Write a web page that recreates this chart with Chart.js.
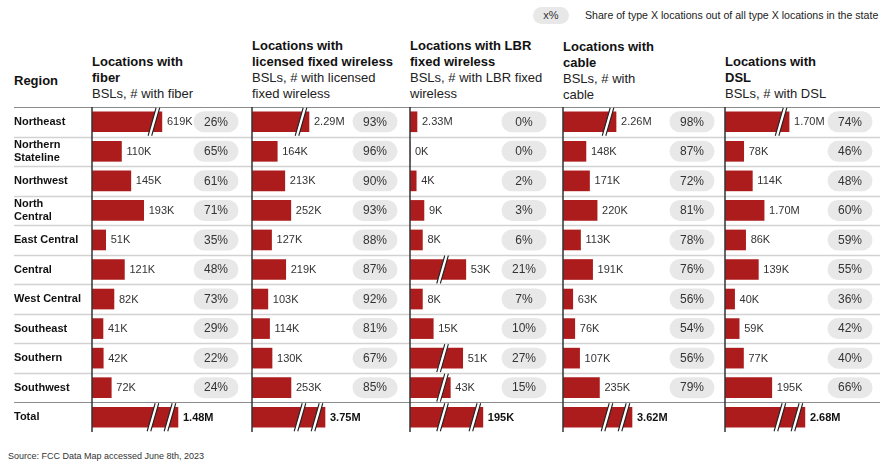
<!DOCTYPE html>
<html>
<head>
<meta charset="utf-8">
<script src="https://cdn.jsdelivr.net/npm/chart.js@4/dist/chart.umd.min.js"></script>
<style>
  body { margin: 0; width: 883px; height: 462px; position: relative; overflow: hidden; background: #fff;
         font-family: "Liberation Sans", Arial, sans-serif; color: #111; }
  .hd { position: absolute; bottom: 360px; font-size: 13px; line-height: 16px; color: #222; white-space: nowrap; }
  .hd b { display: block; color: #111; }
  canvas { position: absolute; top: 106px; }
  #key { position: absolute; left: 533px; top: 7px; width: 36px; height: 17px; border-radius: 9px; background: #e8e8e8;
         font-size: 11px; line-height: 17px; text-align: center; color: #333; }
  #keytxt { position: absolute; left: 585px; top: 8px; font-size: 10.6px; line-height: 15px; color: #222; white-space: nowrap; }
  #src { position: absolute; left: 8px; top: 451px; font-size: 9px; color: #333; white-space: nowrap; }
</style>
</head>
<body>
<div id="key">x%</div>
<div id="keytxt">Share of type X locations out of all type X locations in the state</div>

<div class="hd" style="left:14px;bottom:373px"><b>Region</b></div>
<div class="hd" style="left:92px"><b>Locations with<br>fiber</b>BSLs, # with fiber</div>
<div class="hd" style="left:252px"><b>Locations with<br>licensed fixed wireless</b>BSLs, # with licensed<br>fixed wireless</div>
<div class="hd" style="left:410px"><b>Locations with LBR<br>fixed wireless</b>BSLs, # with LBR fixed<br>wireless</div>
<div class="hd" style="left:563px;bottom:359px"><b>Locations with<br>cable</b>BSLs, # with<br>cable</div>
<div class="hd" style="left:725px"><b>Locations with<br>DSL</b>BSLs, # with DSL</div>

<canvas id="c1" width="250" height="327" style="left:0px"></canvas>
<canvas id="c2" width="158" height="327" style="left:250px"></canvas>
<canvas id="c3" width="153" height="327" style="left:408px"></canvas>
<canvas id="c4" width="162" height="327" style="left:561px"></canvas>
<canvas id="c5" width="160" height="327" style="left:723px"></canvas>

<div id="src">Source: FCC Data Map accessed June 8th, 2023</div>

<script>
const regions = [
  'Northeast', ['Northern', 'Stateline'], 'Northwest', ['North', 'Central'], 'East Central',
  'Central', 'West Central', 'Southeast', 'Southern', 'Southwest', 'Total'
];

// bar lengths in thousands; broken bars (see *Breaks) are drawn shorter than their label
const fiberBars   = [261, 110, 145, 193, 51, 121, 82, 41, 42, 72, 321];
const fiberLabels = ['619K', '110K', '145K', '193K', '51K', '121K', '82K', '41K', '42K', '72K', '1.48M'];
const fiberShare  = [26, 65, 61, 71, 35, 48, 73, 29, 22, 24];
const fiberBreaks = [1, 0, 0, 0, 0, 0, 0, 0, 0, 0, 2];

const licBars   = [370, 164, 213, 252, 127, 219, 103, 114, 130, 253, 474];
const licLabels = ['2.29M', '164K', '213K', '252K', '127K', '219K', '103K', '114K', '130K', '253K', '3.75M'];
const licShare  = [93, 96, 90, 93, 88, 87, 92, 81, 67, 85];
const licBreaks = [1, 0, 0, 0, 0, 0, 0, 0, 0, 0, 2];

const lbrBars   = [4.5, 0, 4, 9, 8, 36, 8, 15, 34, 26, 47];
const lbrLabels = ['2.33M', '0K', '4K', '9K', '8K', '53K', '8K', '15K', '51K', '43K', '195K'];
const lbrShare  = [0, 0, 2, 3, 6, 21, 7, 10, 27, 15];
const lbrBreaks = [0, 0, 0, 0, 0, 1, 0, 0, 1, 1, 2];

const cableBars   = [342, 148, 171, 220, 113, 191, 63, 76, 107, 235, 445];
const cableLabels = ['2.26M', '148K', '171K', '220K', '113K', '191K', '63K', '76K', '107K', '235K', '3.62M'];
const cableShare  = [98, 87, 72, 81, 78, 76, 56, 54, 56, 79];
const cableBreaks = [1, 0, 0, 0, 0, 0, 0, 0, 0, 0, 2];

const dslBars   = [267, 78, 114, 163, 86, 139, 40, 59, 77, 195, 333];
const dslLabels = ['1.70M', '78K', '114K', '1.70M', '86K', '139K', '40K', '59K', '77K', '195K', '2.68M'];
const dslShare  = [74, 46, 48, 60, 59, 55, 36, 42, 40, 66];
const dslBreaks = [1, 0, 0, 0, 0, 0, 0, 0, 0, 0, 2];

const FONT = '"Liberation Sans", Arial, sans-serif';
const RED = '#ad1c1c';

function drawBreak(ctx, cx, yc) {
  const h = 14, s = 4, g = 1.8;
  ctx.beginPath();
  ctx.moveTo(cx + s - g, yc - h);
  ctx.lineTo(cx + s + g, yc - h);
  ctx.lineTo(cx - s + g, yc + h);
  ctx.lineTo(cx - s - g, yc + h);
  ctx.closePath();
  ctx.fillStyle = '#fff';
  ctx.fill();
  ctx.beginPath();
  ctx.moveTo(cx + s - g, yc - h); ctx.lineTo(cx - s - g, yc + h);
  ctx.moveTo(cx + s + g, yc - h); ctx.lineTo(cx - s + g, yc + h);
  ctx.strokeStyle = '#222';
  ctx.lineWidth = 1.1;
  ctx.stroke();
}

const rowDecor = {
  id: 'rowDecor',
  beforeDatasetsDraw(chart, args, o) {
    const { ctx, chartArea: a, scales: { y } } = chart;
    const x0 = o.lineFrom, x1 = chart.width - o.lineTo;
    ctx.save();
    ctx.strokeStyle = '#8c8c8c';
    ctx.lineWidth = 1.2;
    ctx.beginPath();
    ctx.moveTo(x0, a.top + 0.5); ctx.lineTo(x1, a.top + 0.5);
    ctx.stroke();
    const n = chart.data.labels.length;
    for (let i = 0; i < n - 1; i++) {
      const yy = Math.round((y.getPixelForValue(i) + y.getPixelForValue(i + 1)) / 2) + 0.5;
      ctx.strokeStyle = i === n - 2 ? '#8c8c8c' : '#d2d2d2';
      ctx.lineWidth = i === n - 2 ? 1.2 : 1.5;
      ctx.beginPath();
      ctx.moveTo(x0, yy); ctx.lineTo(x1, yy);
      ctx.stroke();
    }
    ctx.restore();
  },
  afterDatasetsDraw(chart, args, o) {
    const { ctx, chartArea: a, scales: { x } } = chart;
    const meta = chart.getDatasetMeta(0);
    const last = meta.data.length - 1;
    ctx.save();
    meta.data.forEach((bar, i) => {
      const end = Math.max(bar.x, a.left);
      const nb = o.breaks[i];
      if (nb) {
        let pos = nb === 2 ? [end - 25, end - 8] : [end - 8];
        if (o.firstBreak != null) pos[0] = x.getPixelForValue(o.firstBreak);
        pos.forEach(p => drawBreak(ctx, p, bar.y));
      }
      ctx.textBaseline = 'middle';
      ctx.textAlign = 'left';
      ctx.fillStyle = i === last ? '#111' : '#333';
      ctx.font = (i === last ? 'bold ' : '') + '11px ' + FONT;
      ctx.fillText(o.labels[i], end + 5, bar.y + 0.5);
      if (i < last) {
        const cx = a.left + o.pillX, w = 45, h = 21;
        ctx.fillStyle = '#e8e8e8';
        ctx.beginPath();
        ctx.roundRect(cx - w / 2, bar.y - h / 2, w, h, h / 2);
        ctx.fill();
        ctx.fillStyle = '#333';
        ctx.textAlign = 'center';
        ctx.font = '12px ' + FONT;
        ctx.fillText(o.shares[i] + '%', cx, bar.y + 0.5);
      }
    });
    // vertical axis line
    ctx.strokeStyle = '#333';
    ctx.lineWidth = 1.5;
    ctx.beginPath();
    ctx.moveTo(a.left, a.top);
    ctx.lineTo(a.left, a.bottom);
    ctx.stroke();
    ctx.restore();
  }
};

function makePanel(id, bars, labels, shares, breaks, opts) {
  const first = !!opts.regions;
  return new Chart(document.getElementById(id), {
    type: 'bar',
    data: {
      labels: regions,
      datasets: [{ data: bars, backgroundColor: RED, borderWidth: 0, barThickness: 20 }]
    },
    options: {
      indexAxis: 'y',
      responsive: false,
      animation: false,
      layout: { padding: { left: first ? 14 : 2, right: opts.right || 0, top: 1, bottom: 1 } },
      plugins: {
        legend: { display: false },
        tooltip: { enabled: false },
        rowDecor: {
          labels, shares, breaks,
          pillX: opts.pillX,
          firstBreak: opts.firstBreak,
          lineFrom: first ? 14 : 0,
          lineTo: opts.lineTo || 0
        }
      },
      scales: {
        x: { display: false, min: 0, max: opts.xMax },
        y: first ? {
          afterFit: s => { s.width = 78; s.paddingTop = 0; s.paddingBottom = 0; },
          grid: { display: false },
          border: { display: false },
          ticks: {
            autoSkip: false,
            crossAlign: 'far',
            padding: 0,
            color: '#111',
            font: { family: FONT, size: 11, weight: 'bold', lineHeight: 1.2 }
          }
        } : { display: false }
      }
    },
    plugins: [rowDecor]
  });
}

makePanel('c1', fiberBars, fiberLabels, fiberShare, fiberBreaks, { regions: true, xMax: 590, pillX: 124 });
makePanel('c2', licBars, licLabels, licShare, licBreaks, { xMax: 1013, pillX: 123 });
makePanel('c3', lbrBars, lbrLabels, lbrShare, lbrBreaks, { xMax: 97.4, pillX: 114, firstBreak: 21 });
makePanel('c4', cableBars, cableLabels, cableShare, cableBreaks, { xMax: 1032, pillX: 129 });
makePanel('c5', dslBars, dslLabels, dslShare, dslBreaks, { xMax: 646, pillX: 125, right: 3, lineTo: 3 });
</script>
</body>
</html>
